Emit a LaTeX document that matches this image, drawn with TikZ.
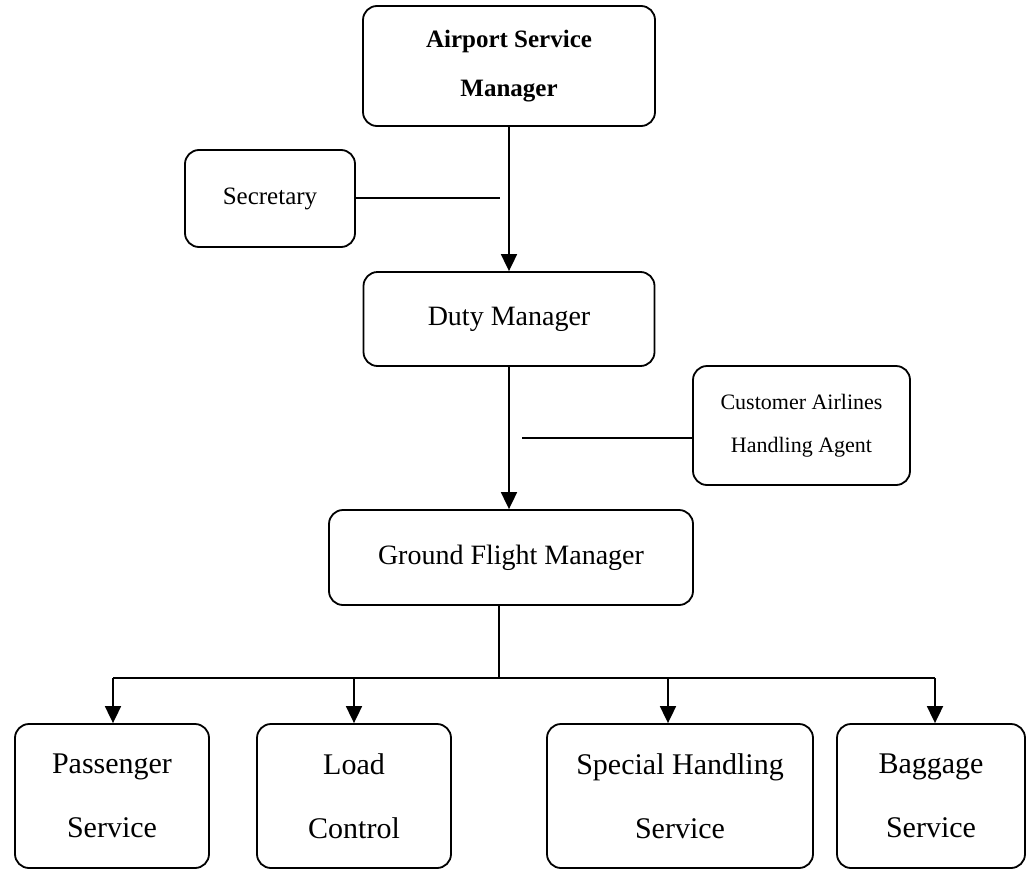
\documentclass[tikz,border=0pt]{standalone}
\usepackage{fontspec}
\setmainfont{Liberation Serif}
\usetikzlibrary{arrows.meta}
\begin{document}
\begin{tikzpicture}[x=1pt,y=-1pt,
  box/.style={draw, line width=1.8pt, rounded corners=14pt, align=center, inner sep=0pt},
  conn/.style={line width=1.8pt},
  arr/.style={conn, -{Triangle[width=16pt,length=17pt]}}]
\useasboundingbox (0,0) rectangle (1028,870);
\node[box, minimum width=292pt, minimum height=120pt, font=\bfseries\fontsize{25}{49}\selectfont] (asm) at (509,66) {Airport Service\\Manager};
\node[box, minimum width=170pt, minimum height=97pt, font=\fontsize{25}{30}\selectfont] (sec) at (270,198.5) {Secretary};
\node[box, minimum width=291pt, minimum height=94pt, font=\fontsize{28}{34}\selectfont] (duty) at (509,319) {Duty Manager};
\node[box, minimum width=217pt, minimum height=119pt, font=\fontsize{22}{43}\selectfont] (cust) at (801.5,425.5) {Customer Airlines\\Handling Agent};
\node[box, minimum width=364pt, minimum height=95pt, font=\fontsize{28}{34}\selectfont] (gfm) at (511,557.5) {Ground Flight Manager};
\node[box, minimum width=194pt, minimum height=144pt, font=\fontsize{30}{64}\selectfont] (pass) at (112,796) {Passenger\\Service};
\node[box, minimum width=194pt, minimum height=144pt, font=\fontsize{30}{64}\selectfont] (load) at (354,796) {Load\\Control};
\node[box, minimum width=266pt, minimum height=144pt, font=\fontsize{30}{64}\selectfont] (spec) at (680,796) {Special Handling\\Service};
\node[box, minimum width=188pt, minimum height=144pt, font=\fontsize{30}{64}\selectfont] (bag) at (931,796) {Baggage\\Service};
\draw[arr] (asm.south) -- (duty.north);
\coordinate (secend) at (500,198);
\draw[conn] (sec.east |- secend) -- (secend);
\draw[arr] (duty.south) -- (duty.south |- gfm.north);
\coordinate (custend) at (522,438);
\draw[conn] (custend) -- (custend -| cust.west);
\coordinate (bus) at (499,678);
\draw[conn] (bus |- gfm.south) -- (bus);
\coordinate (b1) at (113,678);
\coordinate (b2) at (354,678);
\coordinate (b3) at (668,678);
\coordinate (b4) at (935,678);
\draw[conn] (b1) -- (b4);
\draw[arr] (b1) -- (b1 |- pass.north);
\draw[arr] (b2) -- (b2 |- load.north);
\draw[arr] (b3) -- (b3 |- spec.north);
\draw[arr] (b4) -- (b4 |- bag.north);
\end{tikzpicture}
\end{document}
